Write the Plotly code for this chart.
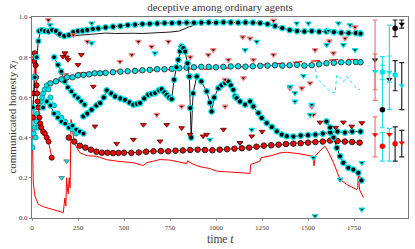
import plotly.graph_objects as go

# ---------------- data ----------------
# upper band (black line, black circles with cyan rim)
t_up = [40, 55, 70, 90, 110, 130, 150, 175, 200, 225, 250, 275, 300, 330, 360, 400, 440, 480, 520, 560,
        600, 640, 680, 720, 760, 800, 840, 880, 920, 960, 1000, 1040, 1080, 1120, 1160, 1200, 1240, 1280, 1320, 1360,
        1400, 1440, 1480, 1520, 1560, 1600, 1640, 1680, 1720, 1760, 1785]
y_up = [0.93, 0.935, 0.93, 0.928, 0.935, 0.93, 0.915, 0.905, 0.91, 0.925, 0.93, 0.932, 0.935, 0.94, 0.943, 0.948, 0.952, 0.955, 0.96, 0.962,
        0.965, 0.966, 0.968, 0.97, 0.97, 0.971, 0.972, 0.971, 0.972, 0.973, 0.972, 0.974, 0.973, 0.972, 0.973, 0.972, 0.97, 0.965, 0.955, 0.945,
        0.935, 0.93, 0.928, 0.93, 0.927, 0.928, 0.925, 0.922, 0.92, 0.92, 0.918]
# second black line just under upper band
t_up2 = [45, 60, 100, 150, 200, 260, 300, 350, 400, 450, 500, 550, 600, 650, 700, 750, 800, 850, 900]
y_up2 = [0.93, 0.94, 0.935, 0.90, 0.905, 0.91, 0.915, 0.918, 0.92, 0.918, 0.92, 0.919, 0.918, 0.92, 0.922, 0.925, 0.93, 0.95, 0.965]

# middle band (cyan)
t_mid = [100, 130, 160, 190, 220, 250, 280, 310, 340, 370, 400, 440, 480, 520, 560, 600, 640, 680, 720, 760,
         800, 840, 880, 920, 960, 1000, 1040, 1080, 1120, 1160, 1200, 1240, 1280, 1320, 1360, 1400, 1440, 1480, 1520, 1560,
         1600, 1640, 1680, 1720, 1760, 1785]
y_mid = [0.67, 0.68, 0.69, 0.70, 0.70, 0.71, 0.712, 0.715, 0.72, 0.72, 0.722, 0.725, 0.728, 0.73, 0.732, 0.735, 0.737, 0.74, 0.74, 0.742,
         0.745, 0.748, 0.75, 0.752, 0.752, 0.75, 0.752, 0.754, 0.755, 0.753, 0.755, 0.757, 0.758, 0.76, 0.758, 0.76, 0.762, 0.758, 0.76, 0.765,
         0.77, 0.772, 0.775, 0.774, 0.776, 0.775]
t_midr = [150, 250, 350, 450, 550, 650, 750, 850, 950, 1050, 1500, 1600, 1700, 1780]
y_midr = [0.715, 0.722, 0.726, 0.731, 0.73, 0.736, 0.738, 0.742, 0.74, 0.746, 0.78, 0.785, 0.79, 0.788]

# lower band (red circles, black rim)
t_low = [200, 230, 260, 290, 320, 350, 380, 410, 440, 470, 500, 540, 580, 620, 660, 700, 740, 780, 820, 860,
         900, 940, 980, 1020, 1060, 1100, 1140, 1180, 1220, 1260, 1300, 1340, 1380, 1420, 1460, 1500, 1540, 1580, 1620, 1660,
         1700, 1740, 1780]
y_low = [0.40, 0.38, 0.36, 0.35, 0.34, 0.33, 0.325, 0.325, 0.323, 0.324, 0.325, 0.324, 0.326, 0.33, 0.332, 0.333, 0.332, 0.335, 0.336, 0.338,
         0.34, 0.338, 0.337, 0.34, 0.342, 0.345, 0.347, 0.35, 0.355, 0.36, 0.362, 0.365, 0.368, 0.37, 0.372, 0.375, 0.378, 0.38, 0.385, 0.383,
         0.38, 0.378, 0.375]

# wandering chain
t_ch1 = [279, 300, 324, 350, 370, 390, 406, 430, 451, 480, 505, 530, 551, 570, 587, 610, 632, 650, 668, 690,
         705, 720, 732, 745, 759, 772, 785, 795, 805, 813, 822, 832, 845, 855, 860, 865, 875, 895, 920, 949,
         967, 976, 990, 1013, 1030, 1049, 1067, 1080, 1094, 1103, 1112, 1130, 1158, 1185, 1203, 1230, 1248, 1275, 1303, 1330,
         1357, 1384, 1420, 1460, 1500, 1540, 1580, 1620, 1660, 1700, 1740, 1785]
y_ch1 = [0.506, 0.52, 0.539, 0.56, 0.572, 0.60, 0.635, 0.62, 0.605, 0.595, 0.588, 0.575, 0.564, 0.568, 0.572, 0.595, 0.613, 0.618, 0.622, 0.635,
         0.641, 0.625, 0.613, 0.60, 0.592, 0.688, 0.75, 0.787, 0.83, 0.853, 0.845, 0.828, 0.77, 0.704, 0.547, 0.40, 0.62, 0.704, 0.68, 0.63,
         0.574, 0.53, 0.60, 0.646, 0.66, 0.671, 0.679, 0.66, 0.638, 0.605, 0.597, 0.58, 0.564, 0.58, 0.555, 0.523, 0.498, 0.473, 0.453, 0.431,
         0.415, 0.407, 0.405, 0.41, 0.412, 0.415, 0.42, 0.425, 0.43, 0.425, 0.43, 0.43]

# late descending chain
t_ch2 = [1600, 1620, 1638, 1656, 1674, 1692, 1719, 1746, 1773, 1790]
y_ch2 = [0.48, 0.45, 0.40, 0.349, 0.307, 0.275, 0.25, 0.241, 0.225, 0.187]

# early chains
t_eA = [120, 141, 159, 178, 195, 214, 232, 250, 268, 286]
y_eA = [0.80, 0.762, 0.729, 0.679, 0.65, 0.63, 0.61, 0.597, 0.58, 0.564]
t_eB = [60, 80, 100, 120, 140, 160, 180, 200, 220, 240, 260, 280]
y_eB = [0.55, 0.58, 0.56, 0.52, 0.50, 0.48, 0.47, 0.45, 0.46, 0.44, 0.43, 0.42]
t_eK = [5, 15, 25, 35, 45, 55]
y_eK = [0.55, 0.70, 0.80, 0.88, 0.93, 0.935]
t_eR = [5, 8, 10, 12, 15, 18, 20, 22, 25, 28, 30, 35, 40, 45, 50, 60, 70, 80, 90, 107]
y_eR = [0.5, 0.62, 0.70, 0.78, 0.82, 0.80, 0.76, 0.70, 0.66, 0.62, 0.58, 0.55, 0.50, 0.47, 0.45, 0.43, 0.42, 0.40, 0.38, 0.30]
t_eC = [3, 6, 9, 12, 15, 20, 25, 30, 35, 40, 45, 50, 55, 60, 70, 80, 90, 100, 120, 140, 160, 180, 200, 220, 240]
y_eC = [0.35, 0.5, 0.42, 0.55, 0.45, 0.40, 0.48, 0.52, 0.45, 0.50, 0.55, 0.58, 0.60, 0.62, 0.64, 0.66, 0.64, 0.60, 0.56, 0.52, 0.50, 0.48, 0.46, 0.44, 0.42]

# red line
t_red = [0, 7, 16, 34, 62, 116, 150, 170, 175, 179, 184, 188, 193, 197, 202, 207, 212, 230, 261, 300,
         351, 406, 460, 551, 605, 623, 660, 696, 750, 800, 841, 845, 870, 913, 967, 1004, 1094, 1185, 1188, 1239,
         1245, 1300, 1348, 1384, 1450, 1529, 1532, 1540, 1560, 1592, 1610, 1638, 1674, 1710, 1764, 1770, 1773, 1780, 1801]
y_red = [0.50, 0.175, 0.109, 0.068, 0.056, 0.043, 0.035, 0.027, 0.07, 0.1, 0.06, 0.2, 0.14, 0.12, 0.2, 0.15, 0.49, 0.37, 0.324, 0.31,
         0.307, 0.29, 0.283, 0.275, 0.261, 0.275, 0.283, 0.291, 0.288, 0.28, 0.271, 0.285, 0.27, 0.255, 0.246, 0.233, 0.228, 0.222, 0.266, 0.283,
         0.3, 0.31, 0.324, 0.327, 0.32, 0.307, 0.26, 0.31, 0.33, 0.357, 0.33, 0.275, 0.192, 0.167, 0.142, 0.15, 0.217, 0.14, 0.101]

# cyan dotted line
t_cyd = [1540, 1547, 1583, 1620, 1647, 1656, 1674, 1692, 1710, 1737, 1755, 1783]
y_cyd = [0.74, 0.696, 0.663, 0.63, 0.622, 0.712, 0.70, 0.679, 0.704, 0.671, 0.654, 0.638]

# scattered triangles
t_trr = [89, 179, 225, 301, 478, 542, 578, 650, 741, 813, 678, 958, 1145, 1185, 1312, 985, 1067, 1203, 1538, 1638,
         1149, 1049, 1402, 1466, 1049, 1520, 1529, 1701, 1312, 1511, 860, 1755, 1615]
y_trr = [0.985, 0.82, 0.91, 0.878, 0.778, 0.812, 0.878, 0.853, 0.878, 0.555, 0.514, 0.812, 0.9, 0.894, 0.982, 0.836, 0.787, 0.787, 0.836, 0.82,
         0.696, 0.688, 0.646, 0.646, 0.555, 0.555, 0.514, 0.894, 0.812, 0.671, 0.80, 0.95, 0.88]
t_trc = [98, 324, 324, 668, 1221, 1438, 1502, 1665, 1728, 1158, 1601, 1755, 1475, 1429, 1429, 1402, 1520, 1511, 1692, 1610,
         1529, 1538, 1792, 1792, 1674, 967, 1130, 1194]
y_trc = [0.96, 0.87, 0.969, 0.82, 0.878, 0.969, 0.969, 0.969, 0.96, 0.836, 0.861, 0.836, 0.707, 0.622, 0.58, 0.654, 0.564, 0.514, 0.861, 0.932,
         0.3, 0.01, 0.043, 0.275, 0.192, 0.39, 0.374, 0.44]
t_trf = [342, 605, 696, 732, 813, 859, 551, 460, 930, 949, 1040, 1194, 1130, 1565, 1692, 1737, 1792, 168, 196, 268, 250, 179, 188, 333, 1250, 1650]
y_trf = [0.456, 0.464, 0.382, 0.464, 0.448, 0.415, 0.39, 0.37, 0.407, 0.415, 0.44, 0.407, 0.374, 0.476, 0.476, 0.456, 0.473, 0.803, 0.787, 0.812, 0.762, 0.82, 0.80, 0.654, 0.43, 0.45]
t_trcf = [161, 188]
y_trcf = [0.2, 0.283]

# summary error bars on the right
eb_x = [1864, 1904, 1942, 1973, 2009]
eb_col = ["#f07878", "#22e4ee", "#22e4ee", "#222222", "#222222"]
eb_sym = ["triangle-down", "circle", "triangle-down", "circle", "triangle-down"]
eb_hi = [0.787, 0.539, 0.69, 0.944, 0.965]
eb_hi_p = [0.198, 0.22, 0.27, 0.041, 0.02]
eb_hi_m = [0.202, 0.09, 0.15, 0.042, 0.02]
eb_mid = [0.729, 0.726, 0.726, 0.712, 0.658]
eb_mid_p = [0.088, 0.077, 0.08, 0.071, 0.115]
eb_mid_m = [0.091, 0.038, 0.05, 0.079, 0.119]
eb_lo = [0.415, 0.357, 0.416, 0.369, 0.374]
eb_lo_p = [0.088, 0.069, 0.03, 0.084, 0.062]
eb_lo_m = [0.111, 0.074, 0.133, 0.086, 0.07]

x_ticks = [0, 250, 500, 750, 1000, 1250, 1500, 1750]
y_ticks = [0.0, 0.2, 0.4, 0.6, 0.8, 1.0]

CY = "#00e0e8"
RD = "#ff0000"
PK = "#ff8080"
FONT = "Liberation Serif"
TXT = "#3a3a3a"

fig = go.Figure()

def line(t, y, color, width=1.0, dash="solid"):
    fig.add_trace(go.Scatter(x=t, y=y, mode="lines", line=dict(color=color, width=width, dash=dash),
                             showlegend=False, hoverinfo="skip"))

def marks(t, y, sym, fill, edge, size=5, ew=1.2, mode="markers", lcol="black", lw=0.8, ldash="solid"):
    fig.add_trace(go.Scatter(x=t, y=y, mode=mode, line=dict(color=lcol, width=lw, dash=ldash),
                             marker=dict(symbol=sym, size=size, color=fill, line=dict(color=edge, width=ew)),
                             showlegend=False, hoverinfo="skip"))

# lines
line(t_red, y_red, RD, 1.0)
line(t_up2, y_up2, "black", 0.9)
line(t_cyd, y_cyd, CY, 1.0, "dot")
line(t_midr, y_midr, RD, 1.2, "dash")

# early mess
marks(t_eC, y_eC, "circle", CY, "#008b8b", 5, 0.8, "lines+markers", CY, 1.0, "dash")
marks(t_eR, y_eR, "circle", RD, "#600000", 5, 1.0, "lines+markers", RD, 1.0)
marks(t_eB, y_eB, "circle", "black", CY, 5, 1.3, "lines+markers", "black", 0.8)
marks(t_eA, y_eA, "circle", "black", CY, 5, 1.3, "lines+markers", "black", 0.8)
marks(t_eK, y_eK, "circle", "black", CY, 5, 1.3, "lines+markers", "black", 0.9)

# bands
marks(t_mid, y_mid, "circle", CY, "#303030", 5.5, 0.9, "lines+markers", CY, 1.2, "dash")
marks(t_low, y_low, "circle", RD, "#202020", 5.5, 1.0, "lines+markers", "black", 0.8)
marks(t_up, y_up, "circle", "black", CY, 5.5, 1.3, "lines+markers", "black", 1.0)
marks(t_ch1, y_ch1, "circle", "black", CY, 5.5, 1.3, "lines+markers", "black", 0.9)
marks(t_ch2, y_ch2, "circle", "black", CY, 5.5, 1.3, "lines+markers", "black", 0.9)

# scattered triangles
marks(t_trr, y_trr, "triangle-down", "#111111", PK, 5, 1.2)
marks(t_trc, y_trc, "triangle-down", "#111111", CY, 5, 1.2)
marks(t_trf, y_trf, "triangle-down", RD, "#500000", 5, 0.8)
marks(t_trcf, y_trcf, "triangle-down", CY, "#707070", 5, 0.8)

# error bars
for i in range(len(eb_x)):
    for yv, ep, em, fill in [(eb_hi[i], eb_hi_p[i], eb_hi_m[i], "black"),
                             (eb_mid[i], eb_mid_p[i], eb_mid_m[i], CY),
                             (eb_lo[i], eb_lo_p[i], eb_lo_m[i], RD)]:
        fig.add_trace(go.Scatter(
            x=[eb_x[i]], y=[yv], mode="markers",
            marker=dict(symbol=eb_sym[i], size=5.5, color=fill, line=dict(width=0)),
            error_y=dict(type="data", symmetric=False, array=[ep], arrayminus=[em],
                         color=eb_col[i], thickness=1.2, width=2.5),
            showlegend=False, hoverinfo="skip"))

axis_common = dict(showgrid=False, zeroline=False, showline=True, linecolor="#777777", linewidth=1.2,
                   mirror=True, ticks="outside", ticklen=2, tickwidth=0.8, tickcolor="#777777",
                   tickfont=dict(family=FONT, size=7, color=TXT))

fig.update_layout(
    width=415, height=249,
    margin=dict(l=32, r=7, t=17, b=31),
    plot_bgcolor="white", paper_bgcolor="white",
    hovermode=False,
    title=dict(text="deceptive among ordinary agents", x=0.5, xanchor="center", xref="paper",
               y=0.985, yanchor="top", font=dict(family=FONT, size=11, color=TXT)),
    xaxis=dict(range=[0, 2043], tickvals=x_ticks, ticktext=[str(v) for v in x_ticks], **axis_common),
    yaxis=dict(range=[0, 1.0], tickvals=y_ticks, ticktext=["%.1f" % v for v in y_ticks], **axis_common),
    annotations=[
        dict(text="time <i>t</i>", xref="paper", yref="paper", x=0.5, y=-0.102, xanchor="center",
             yanchor="middle", showarrow=False, font=dict(family=FONT, size=11.5, color=TXT)),
        dict(text="communicated honesty <i>x\u0305</i><sub><i>J</i></sub>", xref="paper", yref="paper",
             x=-0.053, y=0.5, xanchor="center", yanchor="middle", textangle=-90, showarrow=False,
             font=dict(family=FONT, size=11, color=TXT)),
    ],
)

fig.write_html("out.html", config={"displayModeBar": False, "staticPlot": True},
               post_script="document.body.style.margin='0';")
